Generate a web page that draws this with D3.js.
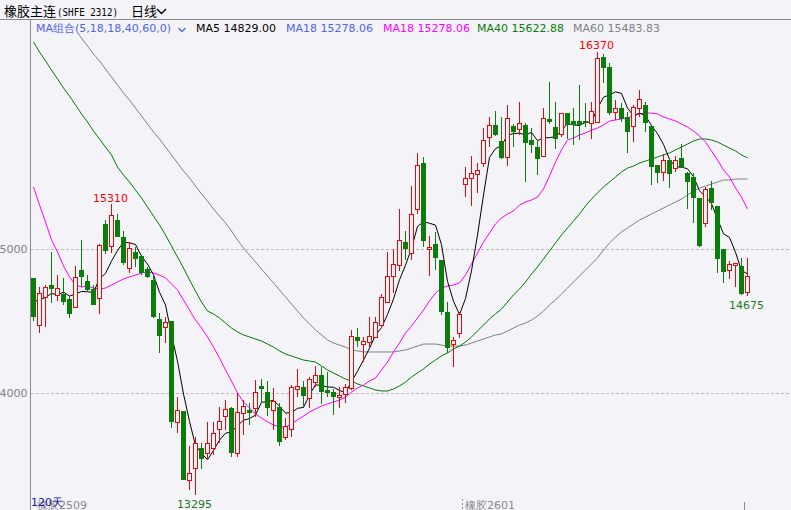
<!DOCTYPE html>
<html><head><meta charset="utf-8">
<script src="https://cdn.jsdelivr.net/npm/d3@7"></script>
<style>html,body{margin:0;padding:0;background:#f4f4f8;overflow:hidden}svg{display:block}</style>
</head><body><svg id="c" width="791" height="510"></svg>
<script>
const opens=[14796,14472,14669,14750,14681,14685,14653,14600,14854,14778,14720,14657,15171,15023,15201,15081,14866,14977,14951,14859,14785,14514,14461,14500,13801,13877,13396,13477,13616,13581,13616,13748,13843,13898,13581,13863,13882,13894,14049,14005,13882,13905,13692,13748,14025,14039,13963,14079,14125,14021,14005,13970,13993,14032,14387,14338,14352,14391,14472,14634,14812,14889,15049,14975,15275,15597,14998,15037,14924,14562,14338,14419,15449,15491,15519,15595,15780,15861,15752,15637,15854,15831,15861,15757,15706,15648,15903,15850,15799,15942,15889,15889,15889,15877,15884,16336,16262,15954,15977,15914,15856,15977,16000,15854,15583,15532,15618,15560,15634,15530,15502,15354,15178,15424,15301,15000,14854,14889,14882,14699];
const highs=[14796,14738,14750,14981,14819,14796,14674,14882,15062,14819,14750,15035,15201,15310,15243,15127,15051,15016,14958,14877,14819,14553,14530,14500,13970,13877,13632,13697,13650,13801,13801,13905,13951,13905,13998,13951,13928,14090,14095,14086,14032,13928,13824,14056,14164,14086,14109,14188,14178,14144,14025,14039,14063,14438,14449,14391,14530,14530,14688,14981,15000,15278,15125,15438,15664,15641,15090,15118,14924,14630,14387,14565,15567,15646,15595,15838,15914,15958,15914,16000,15868,16019,15877,15838,15757,15981,16160,16019,15947,15947,15977,16139,16016,16023,16370,16354,16289,16035,16012,15954,16000,16104,16023,15854,15583,15657,15630,15646,15729,15537,15525,15354,15433,15475,15301,15000,14917,14905,14935,14935];
const lows=[14502,14419,14461,14623,14641,14611,14519,14588,14738,14708,14609,14549,14965,14970,15081,14889,14831,14877,14819,14796,14519,14275,14345,13755,13720,13396,13326,13295,13470,13535,13569,13650,13743,13558,13558,13708,13778,13836,13928,13840,13743,13632,13674,13697,13970,13905,13898,14044,13924,13975,13847,13898,13928,14021,14317,14218,14322,14387,14472,14634,14692,14850,14924,14924,15243,15016,14812,14854,14542,14275,14183,14384,15363,15301,15387,15567,15706,15785,15623,15576,15706,15792,15468,15669,15514,15648,15866,15692,15780,15764,15722,15757,15850,15762,15873,16155,15931,15896,15884,15669,15741,15914,15815,15444,15456,15475,15421,15537,15560,15275,15183,15016,15150,15271,14831,14762,14792,14738,14681,14675];
const closes=[14530,14692,14734,14720,14727,14634,14549,14808,14808,14715,14613,15028,14986,15236,15086,14900,15005,14931,14831,14808,14530,14398,14491,13801,13882,13396,13447,13650,13539,13650,13720,13806,13889,13581,13870,13910,13863,14009,14025,13898,13947,13662,13771,14039,14049,13979,14095,14125,14009,14002,13970,13984,14044,14398,14359,14359,14396,14495,14664,14812,14896,15063,15002,15243,15581,15056,15012,14938,14560,14310,14368,14549,15493,15525,15549,15757,15859,15794,15634,15907,15815,15873,15734,15720,15623,15907,15884,15762,15942,15861,15861,15861,15873,15958,16324,16255,15942,15977,15903,15815,15988,16039,15877,15567,15530,15618,15521,15618,15560,15468,15352,15021,15417,15317,14931,14843,14894,14900,14687,14812];
const priorCloses=[14632,14644,14580,14784];
const ma18=[15431,15306,15188,15063,14979,14882,14806,14750,14736,14743,14729,14722,14729,14750,14771,14792,14806,14819,14833,14840,14833,14819,14799,14757,14715,14646,14576,14507,14451,14389,14319,14243,14160,14083,14000,13938,13896,13854,13826,13799,13778,13764,13764,13785,13813,13840,13868,13889,13910,13924,13938,13951,13972,14007,14035,14056,14083,14104,14160,14215,14285,14347,14417,14465,14521,14576,14639,14694,14729,14743,14750,14764,14819,14896,14972,15049,15111,15174,15215,15243,15264,15306,15326,15340,15361,15417,15507,15604,15688,15757,15771,15792,15806,15826,15840,15861,15889,15896,15903,15910,15924,15938,15944,15944,15938,15917,15903,15889,15868,15847,15819,15785,15743,15681,15618,15549,15500,15424,15361,15278];
const ma40=[16438,16368,16306,16243,16181,16118,16062,16000,15938,15882,15819,15764,15708,15653,15569,15514,15465,15410,15354,15292,15229,15167,15097,15021,14944,14868,14785,14708,14632,14569,14549,14521,14486,14451,14424,14403,14389,14375,14361,14340,14319,14292,14271,14257,14243,14229,14222,14215,14188,14160,14139,14118,14097,14083,14063,14049,14035,14021,14014,14014,14028,14049,14076,14111,14139,14167,14201,14229,14257,14278,14306,14326,14354,14389,14431,14472,14514,14549,14583,14632,14681,14722,14771,14826,14875,14931,14986,15042,15097,15146,15194,15243,15299,15347,15389,15431,15465,15500,15535,15562,15576,15597,15611,15625,15639,15653,15667,15688,15708,15729,15750,15764,15764,15757,15743,15722,15701,15681,15653,15632];
const ma60=[16896,16847,16792,16736,16681,16625,16576,16521,16465,16410,16354,16306,16250,16194,16139,16083,16035,15979,15924,15868,15813,15764,15708,15653,15597,15542,15493,15438,15382,15333,15278,15229,15181,15125,15062,15007,14958,14910,14861,14813,14764,14715,14667,14618,14569,14521,14479,14438,14403,14368,14347,14333,14319,14299,14292,14285,14285,14285,14285,14285,14285,14292,14299,14312,14326,14340,14340,14340,14333,14326,14326,14326,14333,14347,14361,14375,14389,14403,14410,14431,14451,14472,14486,14507,14535,14569,14611,14646,14688,14729,14771,14813,14854,14896,14938,14993,15042,15083,15118,15146,15174,15201,15222,15243,15264,15285,15306,15326,15347,15375,15403,15424,15437,15451,15465,15479,15479,15486,15486,15486];
const yTickValues=[14000,15000];
const yTickLabels=["4000","5000"];
const legendLabels=["MA组合(5,18,18,40,60,0)","MA5 14829.00","MA18 15278.06","MA18 15278.06","MA40 15622.88","MA60 15483.83"];
const legendColors=["#4f63ee","#000000","#4f63ee","#ff00ff","#0a7d0a","#808088"];
const titleParts=["橡胶主连","(SHFE 2312)","日线"];
const bottomLabels=["120天","橡胶2509","橡胶2601"];

const W=791,H=510,BG="#f4f4f8",RED="#ff0000",GREEN="#0a7d0a";
const svg=d3.select("#c");
svg.append("rect").attr("width",W).attr("height",H).attr("fill",BG);

const n=closes.length;
const x=d3.scaleLinear().domain([0,n-1]).range([33.5,747.5]);
const y=d3.scaleLinear().domain([14000,15000]).range([393,249]);

// frame lines
svg.append("line").attr("x1",0).attr("x2",W).attr("y1",19.5).attr("y2",19.5).attr("stroke","#8a8a8e");
svg.append("line").attr("x1",30.5).attr("x2",30.5).attr("y1",20).attr("y2",H).attr("stroke","#8a8a8e");

// title
svg.append("text").attr("x",4).attr("y",16).attr("font-family","Noto Sans CJK SC").attr("font-size",13).attr("fill","#000").text(titleParts[0]);
svg.append("text").attr("x",57).attr("y",15.5).attr("font-family","DejaVu Sans Mono").attr("font-size",11).attr("textLength",61).attr("lengthAdjust","spacingAndGlyphs").attr("fill","#000").text(titleParts[1]);
svg.append("text").attr("x",131).attr("y",16).attr("font-family","Noto Sans CJK SC").attr("font-size",13).attr("fill","#000").text(titleParts[2]);
svg.append("path").attr("d","M157,9 L161.5,13.5 L166,9").attr("fill","none").attr("stroke","#000").attr("stroke-width",1.4);

// gridlines
svg.append("g").selectAll("line").data(yTickValues).join("line")
  .attr("x1",31).attr("x2",W).attr("y1",d=>Math.round(y(d))+0.5).attr("y2",d=>Math.round(y(d))+0.5)
  .attr("stroke","#b9b9bf").attr("stroke-dasharray","3,2");

// y axis labels
const yAxis=d3.axisLeft(y).tickValues(yTickValues).tickFormat((d,i)=>yTickLabels[i]).tickSize(0).tickPadding(0);
const ga=svg.append("g").attr("transform","translate(27.5,0)").call(yAxis);
ga.select(".domain").remove();
ga.selectAll("text").attr("font-family","DejaVu Sans").attr("font-size",11).attr("fill","#80808a");

// clip
svg.append("defs").append("clipPath").attr("id","clip").append("rect").attr("x",31).attr("y",33).attr("width",W-31).attr("height",H-33);
const plot=svg.append("g").attr("clip-path","url(#clip)");

// moving averages
const allC=priorCloses.concat(closes);
const ma5=closes.map((c,i)=>d3.mean(allC.slice(i,i+5)));
const line=d3.line().x((d,i)=>x(i)).y(d=>y(d));
[[ma60,"#808080"],[ma40,"#007a00"],[ma18,"#ff00ff"],[ma5,"#000000"]].forEach(([arr,col])=>{
  plot.append("path").datum(arr).attr("d",line).attr("fill","none").attr("stroke",col).attr("stroke-width",1);
});

// candles
const cg=plot.append("g").attr("shape-rendering","crispEdges");
const cs=cg.selectAll("g").data(d3.range(n)).join("g");
cs.each(function(i){
  const g=d3.select(this);
  const cx=x(i);
  const yo=Math.round(y(opens[i])),yc=Math.round(y(closes[i])),yh=Math.round(y(highs[i])),yl=Math.round(y(lows[i]));
  const top=Math.min(yo,yc),bot=Math.max(yo,yc);
  if(closes[i]>=opens[i]){
    if(yh<top) g.append("line").attr("x1",cx).attr("x2",cx).attr("y1",yh).attr("y2",top).attr("stroke",RED);
    if(yl>bot) g.append("line").attr("x1",cx).attr("x2",cx).attr("y1",bot+1).attr("y2",yl).attr("stroke",RED);
    g.append("rect").attr("x",cx-2).attr("y",top+0.5).attr("width",4).attr("height",Math.max(bot-top,1)).attr("fill",BG).attr("stroke",RED);
  } else {
    g.append("line").attr("x1",cx).attr("x2",cx).attr("y1",yh).attr("y2",yl).attr("stroke",GREEN);
    g.append("rect").attr("x",cx-2.5).attr("y",top).attr("width",5).attr("height",Math.max(bot-top,1)).attr("fill",GREEN);
  }
});

// extreme labels
const hiIdx=[13,94], loIdx=[27,119];
hiIdx.forEach(i=>{
  svg.append("text").attr("x",x(i)-1).attr("y",y(highs[i])-2.5).attr("text-anchor","middle")
    .attr("font-family","DejaVu Sans").attr("font-size",11).attr("fill",RED).text(highs[i]);
});
loIdx.forEach(i=>{
  svg.append("text").attr("x",x(i)-1).attr("y",y(lows[i])+13).attr("text-anchor","middle")
    .attr("font-family","DejaVu Sans").attr("font-size",11).attr("fill","#1f7a1f").text(lows[i]);
});

// legend
const legendX=[36,196,286,383,477,573];
legendLabels.forEach((t,i)=>{
  svg.append("text").attr("x",legendX[i]).attr("y",31.5).attr("font-family","DejaVu Sans").attr("font-size",11).attr("fill",legendColors[i]).text(t);
});
svg.append("path").attr("d","M178.5,28 L182,31.5 L185.5,28").attr("fill","none").attr("stroke",legendColors[0]).attr("stroke-width",1.3);

// bottom labels (overlapping as in the reference)
svg.append("text").attr("x",37).attr("y",508.5).attr("font-family","DejaVu Sans").attr("font-size",11).attr("fill","#8a8a90").text(bottomLabels[1]);
svg.append("text").attr("x",31).attr("y",506).attr("font-family","DejaVu Sans").attr("font-size",11).attr("fill","#1a1aa0").text(bottomLabels[0]);
svg.append("line").attr("x1",462.5).attr("x2",462.5).attr("y1",499).attr("y2",509).attr("stroke","#8a8a90").attr("stroke-dasharray","2,2");
svg.append("text").attr("x",465).attr("y",508.5).attr("font-family","DejaVu Sans").attr("font-size",11).attr("fill","#8a8a90").text(bottomLabels[2]);
svg.append("line").attr("x1",744.5).attr("x2",744.5).attr("y1",502).attr("y2",510).attr("stroke","#8a8a90");
</script></body></html>
